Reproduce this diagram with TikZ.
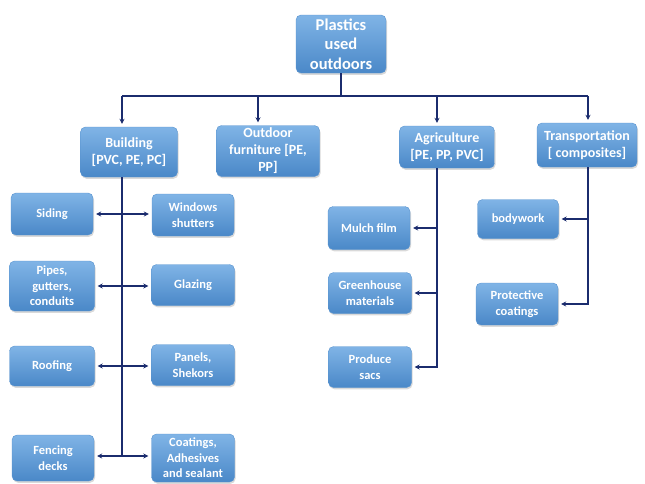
\documentclass[tikz,border=0pt]{standalone}
\usepackage{fontspec}
\setmainfont{Carlito}
\usetikzlibrary{shadows,arrows.meta}
\definecolor{boxtop}{HTML}{80B4E6}
\definecolor{boxbot}{HTML}{4A88C8}
\definecolor{boxedge}{HTML}{5893CF}
\definecolor{linecol}{HTML}{1B2C6E}
\tikzset{
  box/.style={rectangle, rounded corners=5pt, top color=boxtop, bottom color=boxbot,
    draw=boxedge, line width=0.4pt, text=white, align=center, inner sep=2pt,
    drop shadow={opacity=0.3, shadow xshift=1pt, shadow yshift=-1.8pt}},
  topbox/.style={box, font=\fontsize{16.5}{19.5}\selectfont\bfseries},
  midbox/.style={box, font=\fontsize{14}{17}\selectfont\bfseries},
  leafbox/.style={box, font=\fontsize{12.5}{15.5}\selectfont\bfseries},
  conn/.style={draw=linecol, line width=1.5pt},
  arr/.style={conn, -{Stealth[length=5pt,width=5pt]}, shorten >=3pt}
}
\begin{document}
\begin{tikzpicture}[x=1pt,y=-1pt]
\useasboundingbox (0,0) rectangle (645,483);
% top
\node[topbox, minimum width=90pt, minimum height=58pt] (top) at (341,44) {Plastics\\used\\outdoors};
% second level
\node[midbox, minimum width=97pt, minimum height=50pt] (building) at (129,152) {Building\\{[PVC, PE, PC]}};
\node[midbox, minimum width=103pt, minimum height=51pt] (outdoor) at (268,151) {Outdoor\\furniture [PE,\\PP]};
\node[midbox, minimum width=95pt, minimum height=42pt] (agri) at (447,147) {Agriculture\\{[PE, PP, PVC]}};
\node[midbox, minimum width=100pt, minimum height=44pt] (trans) at (587,145) {Transportation\\{[ composites]}};
% building leaves
\node[leafbox, minimum width=82pt, minimum height=42pt] (siding) at (52,214) {Siding};
\node[leafbox, minimum width=82pt, minimum height=42pt] (windows) at (193,215) {Windows\\shutters};
\node[leafbox, minimum width=85pt, minimum height=50pt] (pipes) at (52,286) {Pipes,\\gutters,\\conduits};
\node[leafbox, minimum width=83pt, minimum height=41pt] (glazing) at (193,285) {Glazing};
\node[leafbox, minimum width=85pt, minimum height=40pt] (roofing) at (52,366) {Roofing};
\node[leafbox, minimum width=83pt, minimum height=41pt] (panels) at (193,365) {Panels,\\Shekors};
\node[leafbox, minimum width=82pt, minimum height=46pt] (fencing) at (53,458) {Fencing\\decks};
\node[leafbox, minimum width=83pt, minimum height=48pt] (coatings) at (193,458) {Coatings,\\Adhesives\\and sealant};
% agriculture leaves
\node[leafbox, minimum width=82pt, minimum height=43pt] (mulch) at (369,228) {Mulch film};
\node[leafbox, minimum width=83pt, minimum height=41pt] (green) at (370,293) {Greenhouse\\materials};
\node[leafbox, minimum width=83pt, minimum height=41pt] (produce) at (370,367) {Produce\\sacs};
% transportation leaves
\node[leafbox, minimum width=81pt, minimum height=39pt] (body) at (518,219) {bodywork};
\node[leafbox, minimum width=82pt, minimum height=42pt] (protect) at (517,304) {Protective\\coatings};
% bus
\coordinate (busT) at (341,96);
\coordinate (busB) at (122,96);
\coordinate (busO) at (258,96);
\coordinate (busA) at (437,96);
\coordinate (busR) at (588,96);
\draw[conn] (top.south) -- (busT);
\draw[conn] (busB) -- (busR);
\draw[arr] (busB) -- (building.north -| busB);
\draw[arr] (busO) -- (outdoor.north -| busO);
\draw[arr] (busA) -- (agri.north -| busA);
\draw[arr] (busR) -- (trans.north -| busR);
% building spine
\coordinate (bs) at (122,456);
\draw[conn] (building.south -| bs) -- (bs);
\draw[arr] (bs |- siding.east) -- (siding.east);
\draw[arr] (bs |- siding.east) -- (windows.west |- siding.east);
\draw[arr] (bs |- pipes.east) -- (pipes.east);
\draw[arr] (bs |- pipes.east) -- (glazing.west |- pipes.east);
\draw[arr] (bs |- roofing.east) -- (roofing.east);
\draw[arr] (bs |- roofing.east) -- (panels.west |- roofing.east);
\draw[arr] (bs) -- (fencing.east |- bs);
\draw[arr] (bs) -- (coatings.west |- bs);
% agriculture spine
\draw[arr] (agri.south -| busA) |- (produce.east);
\draw[arr] (busA |- mulch.east) -- (mulch.east);
\draw[arr] (busA |- green.east) -- (green.east);
% transportation spine
\draw[arr] (trans.south -| busR) |- (protect.east);
\draw[arr] (busR |- body.east) -- (body.east);
\end{tikzpicture}
\end{document}
